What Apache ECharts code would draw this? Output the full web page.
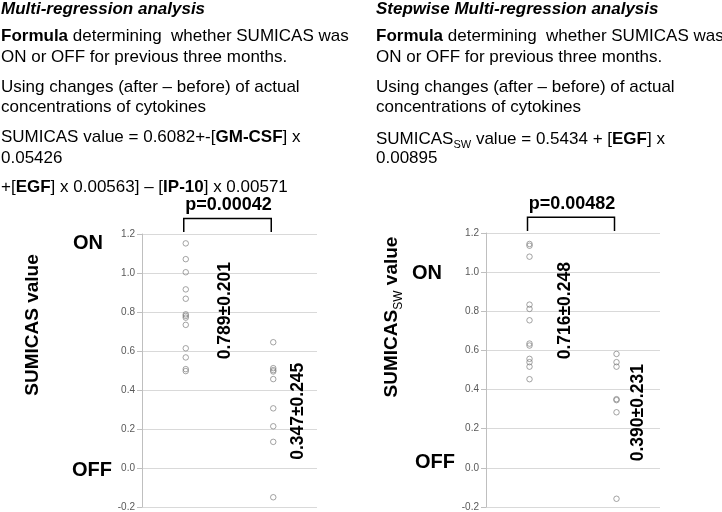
<!DOCTYPE html>
<html><head><meta charset="utf-8">
<script src="https://cdn.jsdelivr.net/npm/echarts@6/dist/echarts.min.js"></script>
<style>html,body{margin:0;padding:0;background:#fff}#c{width:722px;height:512px}</style>
</head><body><div id="c"></div>
<script>
// ---- data ----
const groupX = [1, 3];               // ON group, OFF group positions on hidden x axis
const yMin = -0.2, yMax = 1.2, yStep = 0.2;
const multiOn  = [1.152, 1.071, 1.004, 0.916, 0.868, 0.788, 0.780, 0.771, 0.734, 0.614, 0.567, 0.507, 0.497];
const multiOff = [0.645, 0.512, 0.502, 0.495, 0.456, 0.306, 0.214, 0.134, -0.150];
const stepOn   = [1.144, 1.135, 1.079, 0.834, 0.812, 0.754, 0.635, 0.625, 0.557, 0.540, 0.517, 0.453];
const stepOff  = [0.582, 0.540, 0.517, 0.351, 0.346, 0.284, -0.158];
const statLabels = ['0.789±0.201', '0.347±0.245', '0.716±0.248', '0.390±0.231'];
const pValues = ['p=0.00042', 'p=0.00482'];

const FONT = "Arial, 'Liberation Sans', sans-serif";
const chart = echarts.init(document.getElementById('c'), null, {renderer: 'canvas'});

function yAxisCfg(gi) {
  return {
    type: 'value', gridIndex: gi, min: yMin, max: yMax, interval: yStep,
    axisLine: {show: true, lineStyle: {color: '#bfbfbf', width: 1}},
    axisTick: {show: true, length: 5, lineStyle: {color: '#bfbfbf'}},
    splitLine: {show: true, lineStyle: {color: '#d9d9d9', width: 1}},
    axisLabel: {color: '#595959', fontSize: 10, fontFamily: FONT, margin: 7,
      formatter: v => (Math.abs(v) < 1e-9 ? 0 : v).toFixed(1)}
  };
}
function xAxisCfg(gi) {
  return {type: 'value', gridIndex: gi, min: 0, max: 4, show: false};
}
function scat(gi, gx, vals) {
  return {
    type: 'scatter', xAxisIndex: gi, yAxisIndex: gi,
    symbol: 'circle', symbolSize: 5.5,
    itemStyle: {color: 'rgba(255,255,255,0)', borderColor: '#7f7f7f', borderWidth: 0.9},
    data: vals.map(v => [gx, v]), silent: true
  };
}

chart.setOption({
  animation: false,
  grid: [
    {left: 142, top: 234, width: 175, height: 274},
    {left: 486, top: 233, width: 174, height: 275}
  ],
  xAxis: [xAxisCfg(0), xAxisCfg(1)],
  yAxis: [yAxisCfg(0), yAxisCfg(1)],
  series: [
    scat(0, groupX[0], multiOn), scat(0, groupX[1], multiOff),
    scat(1, groupX[0], stepOn), scat(1, groupX[1], stepOff)
  ]
});

// ---- annotations ----
const px = (g, x, y) => chart.convertToPixel({gridIndex: g}, [x, y]);
const g = [];
const base = {fill: '#000', fontFamily: FONT, fontSize: 17};
const rich = {
  b: {fontWeight: 'bold', fontSize: 17, fontFamily: FONT, fill: '#000', lineHeight: 22},
  n: {fontSize: 17, fontFamily: FONT, fill: '#000', lineHeight: 22},
  sub: {fontSize: 11, fontFamily: FONT, fill: '#000', lineHeight: 11, verticalAlign: 'bottom'}
};
function line(x, y, text, extra) {
  g.push({type: 'text', x: x, y: y, silent: true,
    style: Object.assign({}, base, {text: text, rich: rich, verticalAlign: 'middle', align: 'left'}, extra || {})});
}
// left text block
line(1, 9, 'Multi-regression analysis', {fontWeight: 'bold', fontStyle: 'italic'});
line(1, 36, '{b|Formula}{n| determining  whether SUMICAS was}');
line(1, 57, 'ON or OFF for previous three months.');
line(1, 87, 'Using changes (after – before) of actual');
line(1, 107, 'concentrations of cytokines');
line(1, 137, '{n|SUMICAS value = 0.6082+-[}{b|GM-CSF}{n|] x}');
line(1, 158, '0.05426');
line(1, 187, '{n|+[}{b|EGF}{n|] x 0.00563] – [}{b|IP-10}{n|] x 0.00571}');
// right text block
line(376, 9, 'Stepwise Multi-regression analysis', {fontWeight: 'bold', fontStyle: 'italic'});
line(376, 36, '{b|Formula}{n| determining  whether SUMICAS was}');
line(376, 57, 'ON or OFF for previous three months.');
line(376, 87, 'Using changes (after – before) of actual');
line(376, 107, 'concentrations of cytokines');
line(376, 139, '{n|SUMICAS}{sub|SW}{n| value = 0.5434 + [}{b|EGF}{n|] x}');
line(376, 158, '0.00895');

// ON / OFF labels
function big(x, y, t) {
  g.push({type: 'text', x: x, y: y, silent: true,
    style: {text: t, fill: '#000', fontFamily: FONT, fontSize: 20, fontWeight: 'bold', align: 'center', verticalAlign: 'middle'}});
}
big(88, 243, 'ON'); big(92, 470, 'OFF');
big(427, 273, 'ON'); big(435, 462, 'OFF');

// axis titles (rotated)
g.push({type: 'text', x: 33, y: 325, rotation: Math.PI / 2, silent: true,
  style: {text: 'SUMICAS value', fill: '#000', fontFamily: FONT, fontSize: 19, fontWeight: 'bold', align: 'center', verticalAlign: 'middle'}});
g.push({type: 'text', x: 392, y: 317, rotation: Math.PI / 2, silent: true,
  style: {text: '{t|SUMICAS}{s|SW}{t| value}', align: 'center', verticalAlign: 'middle',
    rich: {t: {fill: '#000', fontFamily: FONT, fontSize: 19, fontWeight: 'bold', lineHeight: 26},
           s: {fill: '#000', fontFamily: FONT, fontSize: 12, fontWeight: 'normal', lineHeight: 12, verticalAlign: 'bottom'}}}});

// p-value brackets
[0, 1].forEach(gi => {
  const a = px(gi, groupX[0], 1.21), b = px(gi, groupX[1], 1.21);
  const top = px(gi, groupX[0], 1.28)[1];
  g.push({type: 'polyline', silent: true,
    shape: {points: [[a[0] - 2, a[1]], [a[0] - 2, top], [b[0] - 2, top], [b[0] - 2, b[1]]]},
    style: {stroke: '#000', lineWidth: 1.5, fill: null}});
  const t = px(gi, (groupX[0] + groupX[1]) / 2, 1.348);
  g.push({type: 'text', x: t[0] - 1, y: t[1], silent: true,
    style: {text: pValues[gi], fill: '#000', fontFamily: FONT, fontSize: 18, fontWeight: 'bold', align: 'center', verticalAlign: 'middle'}});
});

// mean ± sd labels (rotated)
const statPos = [[0, 1.9, 0.807], [0, 3.57, 0.291], [1, 1.82, 0.803], [1, 3.49, 0.282]];
statPos.forEach((s, i) => {
  const p = px(s[0], s[1], s[2]);
  g.push({type: 'text', x: p[0], y: p[1], rotation: Math.PI / 2, silent: true,
    style: {text: statLabels[i], fill: '#000', fontFamily: FONT, fontSize: 17.5, fontWeight: 'bold', align: 'center', verticalAlign: 'middle'}});
});

chart.setOption({graphic: g});
</script>
</body></html>
